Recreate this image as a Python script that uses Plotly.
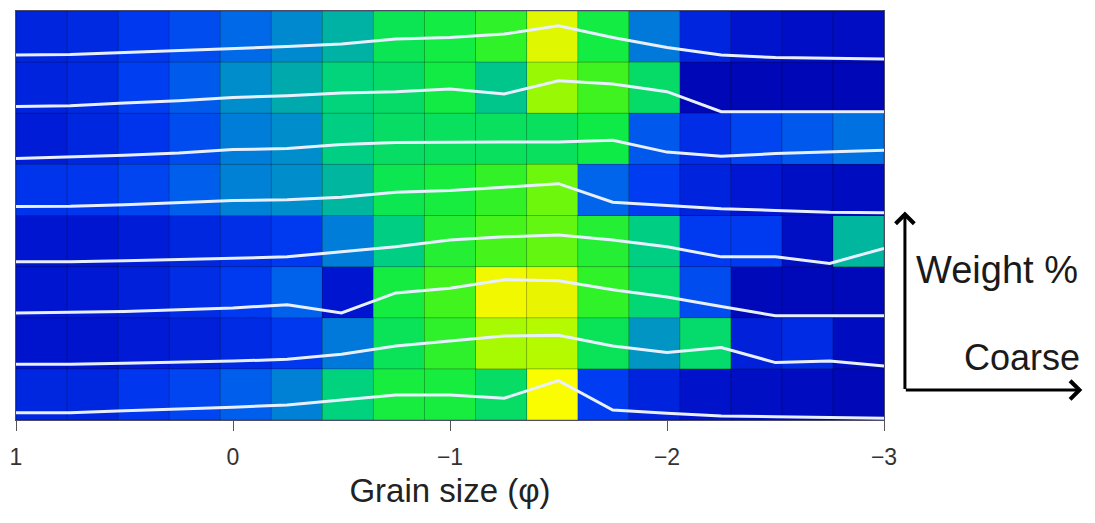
import numpy as np
import plotly.graph_objects as go

# Grain-size bins (phi) for the 17 classes, 1 phi (fine) to -3 phi (coarse)
PHI_BINS = [1.0, 0.75, 0.5, 0.25, 0.0, -0.25, -0.5, -0.75, -1.0,
            -1.25, -1.5, -1.75, -2.0, -2.25, -2.5, -2.75, -3.0]

# Weight % per bin, one list per sample, listed from top row to bottom row
SAMPLE_1 = [2.8, 3.0, 3.8, 4.5, 5.4, 6.2, 7.2, 9.2, 9.8, 11.2, 14.5, 9.8, 5.8, 2.8, 1.8, 1.4, 1.2]
SAMPLE_2 = [2.7, 3.0, 4.1, 5.0, 6.3, 7.0, 8.1, 8.6, 9.7, 7.7, 13.0, 11.7, 8.6, 0.6, 0.6, 0.6, 0.6]
SAMPLE_3 = [2.3, 2.9, 3.6, 4.5, 5.9, 6.3, 7.9, 8.7, 8.9, 8.9, 8.9, 9.6, 4.9, 3.2, 4.3, 4.9, 5.6]
SAMPLE_4 = [3.6, 3.7, 4.3, 5.1, 6.0, 6.3, 7.3, 9.3, 10.0, 11.3, 12.7, 5.3, 4.0, 2.7, 2.0, 1.3, 1.1]
SAMPLE_5 = [1.9, 1.9, 2.3, 2.9, 3.3, 3.9, 5.9, 7.9, 10.6, 11.9, 12.6, 10.6, 7.9, 3.9, 3.9, 1.3, 7.3]
SAMPLE_6 = [1.9, 2.1, 2.5, 3.2, 3.9, 5.2, 1.9, 9.9, 11.8, 15.2, 14.8, 11.2, 8.3, 4.5, 0.8, 0.8, 0.8]
SAMPLE_7 = [1.8, 1.8, 2.2, 2.5, 3.1, 3.8, 5.8, 9.1, 11.1, 13.1, 13.4, 9.1, 6.5, 8.5, 2.5, 3.1, 1.1]
SAMPLE_8 = [2.9, 2.9, 3.7, 4.3, 5.1, 6.0, 8.0, 10.0, 10.0, 8.7, 15.7, 4.0, 2.7, 1.6, 1.3, 1.1, 0.7]

SAMPLES_TOP_TO_BOTTOM = [SAMPLE_1, SAMPLE_2, SAMPLE_3, SAMPLE_4,
                         SAMPLE_5, SAMPLE_6, SAMPLE_7, SAMPLE_8]

TICK_VALS = [1, 0, -1, -2, -3]
TICK_TEXT = ["1", "0", "\u22121", "\u22122", "\u22123"]

# ---- styling ----
LINE_SCALE = 0.049          # row heights per weight %
COLORSCALE = [
    [0.00, "rgb(0,0,170)"],
    [0.125, "rgb(0,22,210)"],
    [0.25, "rgb(0,60,242)"],
    [0.33, "rgb(0,100,235)"],
    [0.40, "rgb(0,145,200)"],
    [0.50, "rgb(0,210,125)"],
    [0.60, "rgb(15,235,70)"],
    [0.72, "rgb(55,243,35)"],
    [0.79, "rgb(100,246,15)"],
    [0.82, "rgb(170,250,0)"],
    [0.87, "rgb(205,250,0)"],
    [0.93, "rgb(235,245,0)"],
    [1.00, "rgb(255,255,0)"],
]

rows_bottom_up = SAMPLES_TOP_TO_BOTTOM[::-1]
n_rows = len(rows_bottom_up)
n_bins = len(PHI_BINS)
z = np.array(rows_bottom_up)

# Image-style cells stretched over the full phi extent
x_edges = np.linspace(PHI_BINS[0], PHI_BINS[-1], n_bins + 1)
y_edges = np.arange(n_rows + 1)

fig = go.Figure()
fig.add_trace(go.Heatmap(
    z=z, x=x_edges, y=y_edges, colorscale=COLORSCALE,
    zmin=0, zmax=16, showscale=False, hoverinfo="skip",
))

# cell grid
gx, gy = [], []
for xe in x_edges:
    gx += [xe, xe, None]
    gy += [0, n_rows, None]
for ye in y_edges:
    gx += [x_edges[0], x_edges[-1], None]
    gy += [ye, ye, None]
fig.add_trace(go.Scatter(x=gx, y=gy, mode="lines",
                         line=dict(color="rgba(0,0,0,0.28)", width=1),
                         hoverinfo="skip", showlegend=False))

# weight % profile of each sample drawn on its own row
for i, row in enumerate(rows_bottom_up):
    fig.add_trace(go.Scatter(
        x=PHI_BINS, y=[i + v * LINE_SCALE for v in row], mode="lines",
        line=dict(color="rgb(232,240,255)", width=3),
        hoverinfo="skip", showlegend=False))

L, R, T, B = 13, 211, 10, 103
W, H = 1095, 523
pw, ph = W - L - R, H - T - B


def px_to_paper(px, py):
    return (px - L) / pw, (H - B - py) / ph


vx, vy = px_to_paper(905, 211)
hx, hy = px_to_paper(1083, 390)
wx, wy = px_to_paper(914, 270)
cx, cy = px_to_paper(1083, 357)

annotations = [
    dict(x=vx, y=vy, xref="paper", yref="paper", ax=0, ay=179,
         axref="pixel", ayref="pixel", showarrow=True, arrowhead=4,
         arrowsize=1.2, arrowwidth=3, arrowcolor="black", text=""),
    dict(x=hx, y=hy, xref="paper", yref="paper", ax=-178, ay=0,
         axref="pixel", ayref="pixel", showarrow=True, arrowhead=4,
         arrowsize=1.2, arrowwidth=3, arrowcolor="black", text=""),
    dict(x=wx, y=wy, xref="paper", yref="paper", xanchor="left",
         yanchor="middle", showarrow=False, text="Weight %",
         font=dict(family="Liberation Sans, Arial, sans-serif", size=38,
                   color="#1a1a1a")),
    dict(x=cx, y=cy, xref="paper", yref="paper", xanchor="right",
         yanchor="middle", showarrow=False, text="Coarse",
         font=dict(family="Liberation Sans, Arial, sans-serif", size=36,
                   color="#1a1a1a")),
]

fig.update_layout(
    width=W, height=H,
    margin=dict(l=L, r=R, t=T, b=B),
    paper_bgcolor="white", plot_bgcolor="white",
    showlegend=False,
    annotations=annotations,
    xaxis=dict(
        range=[PHI_BINS[0], PHI_BINS[-1]],
        tickvals=TICK_VALS, ticktext=TICK_TEXT,
        ticks="outside", ticklen=10, tickwidth=1, tickcolor="#555",
        ticklabelstandoff=6,
        tickfont=dict(family="Liberation Sans Narrow, Arial Narrow, Liberation Sans, Arial",
                      size=23, color="#333"),
        showgrid=False, zeroline=False,
        showline=True, linecolor="rgba(0,0,40,0.7)", linewidth=1, mirror=True,
        title=dict(text="Grain size (\u03c6)", standoff=10,
                   font=dict(family="Liberation Sans, Arial, sans-serif",
                             size=33, color="#222")),
    ),
    yaxis=dict(range=[0, n_rows], showticklabels=False, ticks="",
               showgrid=False, zeroline=False,
               showline=True, linecolor="rgba(0,0,40,0.7)", linewidth=1,
               mirror=True),
)

fig.write_html("out.html")
